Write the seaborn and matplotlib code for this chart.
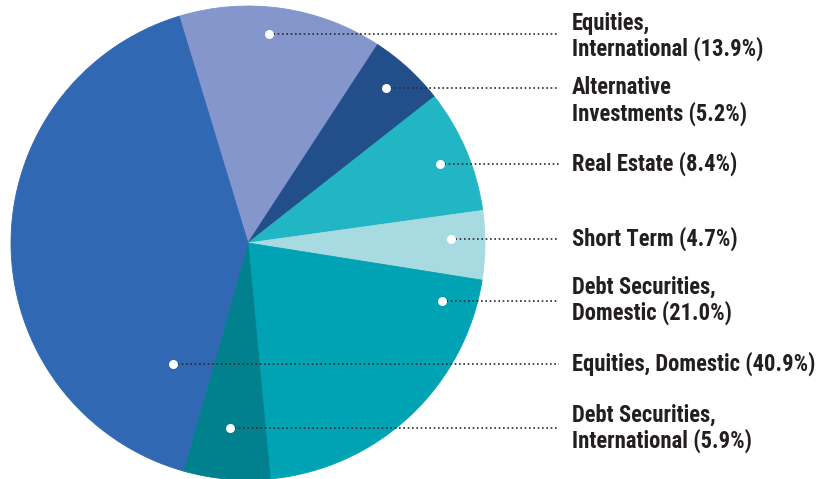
import numpy as np
import matplotlib
matplotlib.use("Agg")
import matplotlib.pyplot as plt
import seaborn as sns

# ---- data ----
categories = [
    "Equities,\nInternational (13.9%)",
    "Alternative\nInvestments (5.2%)",
    "Real Estate (8.4%)",
    "Short Term (4.7%)",
    "Debt Securities,\nDomestic (21.0%)",
    "Debt Securities,\nInternational (5.9%)",
    "Equities, Domestic (40.9%)",
]
shares = [13.9, 5.2, 8.4, 4.7, 21.0, 5.9, 40.9]
colors = ["#8496CB", "#224F8A", "#22B6C5", "#A8DAE2", "#00A3B3", "#00818D", "#3068B3"]

# ---- layout (pixel units, y measured from top) ----
W, H = 828, 479
cx, cy_top, R = 248, 243, 237
start_angle = 106.9
# where the marker dot sits inside each wedge: fraction along wedge, radius fraction
dot_frac = [0.45, 0.45, 0.52, 0.40, 0.10, 0.515, 0.108]
dot_rad = [0.885, 0.875, 0.878, 0.855, 0.852, 0.786, 0.598]
label_dy = [2, 13, 0, 0, 0, 0, 0]  # text centre offset from leader line (px)
label_x = 572
line_end_x = 559

sns.set_theme(style="white")
plt.rcParams["font.family"] = ["Roboto Condensed", "Liberation Sans Narrow", "Roboto", "DejaVu Sans"]

fig = plt.figure(figsize=(W / 100, H / 100), dpi=100)
ax = fig.add_axes([0, 0, 1, 1])

cy = H - cy_top
wedges, _ = ax.pie(shares, colors=colors, startangle=start_angle, counterclock=False,
                   center=(cx, cy), radius=R, frame=True,
                   wedgeprops=dict(linewidth=0.6))
for w, c in zip(wedges, colors):
    w.set_edgecolor(c)
ax.set_xlim(0, W)
ax.set_ylim(0, H)
ax.set_aspect("equal")
ax.axis("off")

for w, lab, f, rf, dy in zip(wedges, categories, dot_frac, dot_rad, label_dy):
    # counterclock=False: each wedge is traversed from theta2 down to theta1
    t_start, t_end = w.theta2, w.theta1
    ang = np.deg2rad(t_start + f * (t_end - t_start))
    x = cx + rf * R * np.cos(ang)
    y = cy + rf * R * np.sin(ang)
    ax.plot([x, line_end_x], [y, y], linestyle=(0, (1, 1.6)), color="#2a2a2a",
            linewidth=1.2, zorder=3, solid_capstyle="butt")
    ax.scatter([x], [y], s=42, color="white", zorder=4, linewidths=0)
    ax.text(label_x, y - dy, lab, ha="left", va="center", fontsize=16.3,
            fontweight="bold", color="#231F20", linespacing=1.1)

fig.savefig("out.png", dpi=100)
